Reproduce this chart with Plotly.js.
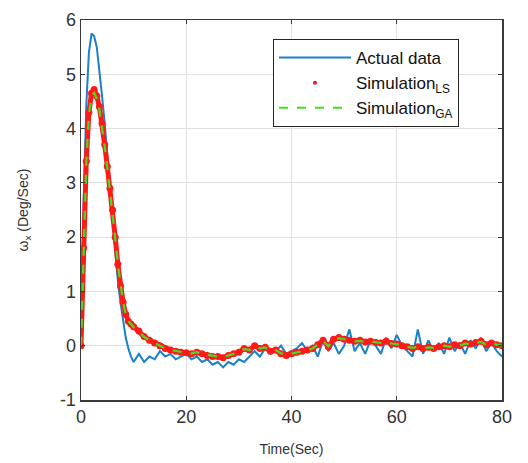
<!DOCTYPE html>
<html>
<head>
<meta charset="utf-8">
<script src="https://cdn.plot.ly/plotly-3.0.1.min.js"></script>
<style>html,body{margin:0;padding:0;background:#fff;}#chart{width:528px;height:463px;}</style>
</head>
<body>
<div id="chart"></div>
<script>
// Time axis (seconds)
var timeSec = [0,0.5,1,1.5,2,2.5,3,3.5,4,4.5,5,5.5,6,6.5,7,7.5,8,8.5,9,9.5,10,
  11,12,13,14,15,16,17,18,19,20,21,22,23,24,25,26,27,28,29,30,
  31,32,33,34,35,36,37,38,39,40,41,42,43,44,45,46,47,48,49,50,
  51,52,53,54,55,56,57,58,59,60,61,62,63,64,65,66,67,68,69,70,
  71,72,73,74,75,76,77,78,79,80];

// Actual data
var actualData = [0,2.6,4.4,5.4,5.75,5.7,5.5,5.1,4.6,4.1,3.5,2.9,2.3,1.7,1.2,0.8,0.45,0.15,-0.05,-0.2,-0.3,
  -0.15,-0.3,-0.2,-0.25,-0.1,-0.2,-0.15,-0.25,-0.2,-0.15,-0.25,-0.2,-0.3,-0.25,-0.35,-0.3,-0.4,-0.3,-0.35,-0.25,
  -0.3,-0.2,-0.1,-0.2,-0.05,-0.15,-0.1,0.0,-0.15,-0.1,-0.05,0.05,-0.1,0.0,-0.2,0.1,-0.1,0.05,-0.15,0.0,
  0.3,-0.1,0.05,-0.15,0.1,0.0,-0.15,0.15,-0.05,0.2,0.0,-0.1,-0.2,0.3,-0.15,0.1,-0.1,0.05,-0.15,0.15,
  -0.1,0.05,-0.15,0.1,-0.05,0.15,-0.1,0.05,-0.1,-0.2];

// Simulation (LS)
var simLS = [0,1.8,3.4,4.3,4.65,4.72,4.6,4.4,4.1,3.7,3.3,2.9,2.5,2.0,1.5,1.1,0.8,0.58,0.45,0.4,0.35,
  0.27,0.17,0.1,0.05,0.0,-0.05,-0.08,-0.1,-0.12,-0.13,-0.15,-0.12,-0.15,-0.18,-0.2,-0.2,-0.22,-0.18,-0.15,-0.12,
  -0.05,-0.08,0.0,-0.05,-0.03,-0.1,-0.08,-0.15,-0.18,-0.15,-0.12,-0.1,-0.08,-0.05,0.02,0.1,-0.02,0.12,0.15,0.12,
  0.1,0.08,0.1,0.07,0.08,0.06,0.05,0.08,0.04,0.03,0.0,-0.02,-0.05,-0.02,-0.05,-0.03,-0.05,-0.02,0.0,-0.02,
  0.02,0.0,0.05,0.03,0.06,0.08,0.02,0.05,0.02,0.0];

// Simulation (GA)
var simGA = [0,1.75,3.35,4.25,4.6,4.66,4.55,4.35,4.05,3.68,3.28,2.88,2.48,1.98,1.5,1.1,0.8,0.58,0.45,0.4,0.34,
  0.26,0.16,0.1,0.05,0.0,-0.05,-0.08,-0.1,-0.12,-0.13,-0.14,-0.12,-0.15,-0.17,-0.19,-0.2,-0.21,-0.18,-0.15,-0.12,
  -0.06,-0.08,-0.01,-0.05,-0.03,-0.1,-0.08,-0.14,-0.17,-0.15,-0.12,-0.1,-0.08,-0.05,0.02,0.09,-0.01,0.11,0.14,0.12,
  0.1,0.08,0.09,0.07,0.08,0.06,0.05,0.07,0.04,0.03,0.0,-0.02,-0.04,-0.02,-0.05,-0.03,-0.04,-0.02,0.0,-0.02,
  0.02,0.0,0.04,0.03,0.05,0.07,0.02,0.05,0.02,0.0];

var xTicks = [0,20,40,60,80];
var yTicks = [-1,0,1,2,3,4,5,6];

var traces = [
  {x: timeSec, y: actualData, type: 'scatter', mode: 'lines', name: 'Actual data',
   line: {color: '#1a80c8', width: 2}},
  {x: timeSec, y: simLS, type: 'scatter', mode: 'lines+markers', name: 'Simulation<sub>LS</sub>',
   showlegend: false,
   line: {color: '#ff1a1a', width: 5}, marker: {color: '#ff1a1a', size: 7}},
  {x: [null], y: [null], type: 'scatter', mode: 'markers', name: 'Simulation<sub>LS</sub>',
   marker: {color: '#e02020', size: 4}},
  {x: timeSec, y: simGA, type: 'scatter', mode: 'lines', name: 'Simulation<sub>GA</sub>',
   line: {color: '#44dd22', width: 2.2, dash: 'dash'}}
];

var axisCommon = {
  showline: true, linecolor: '#3a3a3a', linewidth: 1.5, mirror: 'ticks',
  ticks: 'inside', ticklen: 4, tickcolor: '#3a3a3a',
  showgrid: true, gridcolor: '#e0e0e0', gridwidth: 1, zeroline: false,
  tickfont: {family: 'Liberation Sans, Arial, sans-serif', size: 18, color: '#333333'}
};

var layout = {
  width: 528, height: 463,
  margin: {l: 81, r: 26, t: 20, b: 63},
  paper_bgcolor: '#ffffff', plot_bgcolor: '#ffffff',
  font: {family: 'Liberation Sans, Arial, sans-serif', color: '#333333'},
  xaxis: Object.assign({}, axisCommon, {
    range: [0, 80], tickvals: xTicks, ticktext: xTicks.map(String),
    title: {text: 'Time(Sec)', font: {size: 14, color: '#333333'}, standoff: 18}
  }),
  yaxis: Object.assign({}, axisCommon, {
    range: [-1, 6], tickvals: yTicks, ticktext: yTicks.map(String),
    title: {text: 'ω<sub>x</sub> (Deg/Sec)', font: {size: 14, color: '#333333'}, standoff: 28}
  }),
  legend: {
    x: 0.456, y: 0.95, xanchor: 'left', yanchor: 'top',
    bgcolor: '#ffffff', bordercolor: '#262626', borderwidth: 1,
    font: {size: 17, color: '#111111'}, itemwidth: 72, tracegroupgap: 0
  },
  showlegend: true
};

Plotly.newPlot('chart', traces, layout, {displayModeBar: false, staticPlot: true});
</script>
</body>
</html>
